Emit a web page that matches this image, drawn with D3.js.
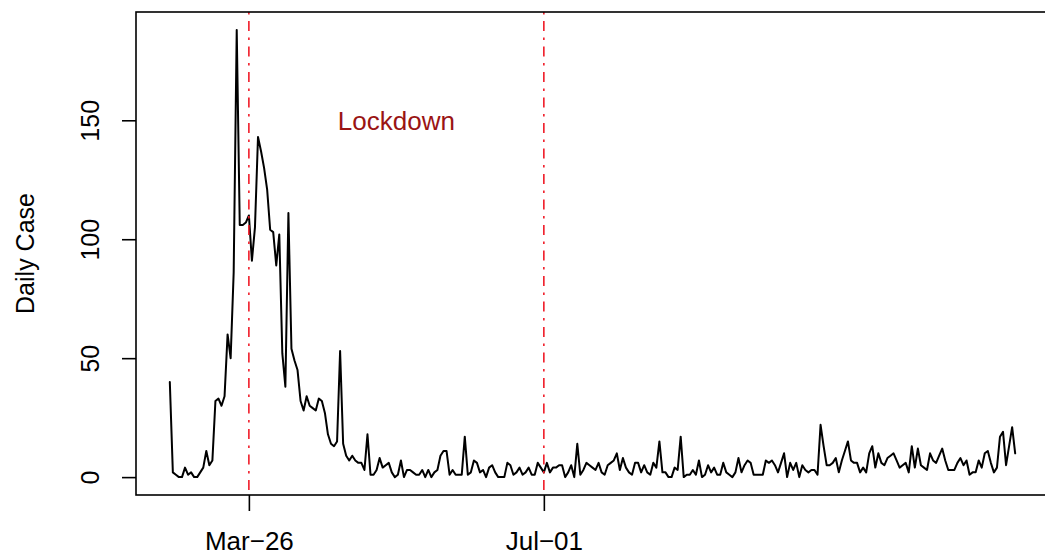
<!DOCTYPE html>
<html>
<head>
<meta charset="utf-8">
<script src="https://cdn.jsdelivr.net/npm/d3@7"></script>
<style>
  html, body { margin: 0; padding: 0; background: #fff; }
  svg { display: block; }
  text { font-family: "Liberation Sans", Arial, Helvetica, sans-serif; }
</style>
</head>
<body>
<div id="chart"></div>
<script>
// Daily reported cases, one value per day starting 2020-02-29
const startDate = "2020-02-29";
const dailyCases = [
  40, 2, 1, 0, 0, 4, 1, 2, 0, 0,
  2, 4, 11, 5, 7, 32, 33, 30, 34, 60,
  50, 86, 188, 106, 106, 107, 110, 91, 105, 143,
  137, 130, 121, 104, 103, 89, 102, 52, 38, 111,
  54, 49, 45, 32, 28, 34, 30, 29, 28, 33,
  32, 27, 18, 14, 13, 15, 53, 14, 9, 7,
  9, 7, 6, 6, 3, 18, 1, 1, 3, 8,
  4, 5, 6, 2, 0, 1, 7, 0, 3, 3,
  2, 1, 1, 3, 0, 3, 0, 2, 3, 9,
  11, 11, 1, 3, 1, 1, 1, 17, 1, 2,
  7, 6, 2, 3, 0, 4, 5, 2, 0, 0,
  0, 6, 5, 1, 2, 4, 1, 2, 4, 1,
  1, 6, 4, 2, 6, 2, 4, 4, 5, 5,
  0, 2, 5, 0, 14, 1, 3, 6, 5, 4,
  3, 6, 2, 1, 5, 6, 7, 10, 3, 8,
  4, 2, 1, 6, 6, 2, 5, 2, 1, 6,
  4, 15, 2, 2, 0, 0, 4, 3, 17, 0,
  1, 1, 3, 1, 7, 0, 1, 5, 2, 4,
  1, 1, 6, 2, 1, 0, 2, 8, 2, 5,
  7, 6, 1, 1, 1, 1, 7, 6, 7, 5,
  2, 6, 10, 0, 6, 3, 6, 0, 5, 3,
  2, 3, 3, 1, 22, 13, 5, 5, 6, 8,
  2, 7, 11, 15, 7, 6, 6, 2, 4, 2,
  10, 13, 4, 10, 6, 5, 8, 9, 10, 7,
  4, 5, 6, 2, 13, 4, 12, 5, 4, 3,
  10, 7, 6, 9, 12, 7, 3, 3, 3, 6,
  8, 5, 7, 1, 2, 2, 7, 4, 10, 11,
  6, 2, 4, 17, 19, 5, 13, 21, 10
];

// Axis ticks
const yTicks = [0, 50, 100, 150];
const xTickDates = ["2020-03-26", "2020-07-01"];
const xTickLabels = ["Mar\u221226", "Jul\u221201"];

// Reference lines and annotation
const markerDates = ["2020-03-26", "2020-07-01"];
const annotationText = "Lockdown";
const annotationValue = 150;
const yLabel = "Daily Case";

const parse = d3.timeParse("%Y-%m-%d");
const start = parse(startDate);
const series = dailyCases.map((v, i) => ({ date: d3.timeDay.offset(start, i), value: v }));

const W = 1045, H = 555;
const plot = { left: 136, right: 1049, top: 12, bottom: 495 };
const font = "'Liberation Sans', Arial, Helvetica, sans-serif";

// Base-graphics style 4% padding on both axes
const t0 = +series[0].date, t1 = +series[series.length - 1].date;
const xPad = (t1 - t0) * 0.04;
const x = d3.scaleTime()
  .domain([new Date(t0 - xPad), new Date(t1 + xPad)])
  .range([plot.left, plot.right]);

const yMin = 0, yMax = d3.max(dailyCases);
const yPad = (yMax - yMin) * 0.04;
const y = d3.scaleLinear()
  .domain([yMin - yPad, yMax + yPad])
  .range([plot.bottom, plot.top]);

const svg = d3.select("#chart").append("svg")
  .attr("width", W).attr("height", H)
  .attr("viewBox", `0 0 ${W} ${H}`);

svg.append("rect").attr("width", W).attr("height", H).attr("fill", "#fff");

// Series line
svg.append("path")
  .datum(series)
  .attr("fill", "none")
  .attr("stroke", "#000")
  .attr("stroke-width", 2)
  .attr("stroke-linejoin", "round")
  .attr("stroke-linecap", "round")
  .attr("d", d3.line().x(d => x(d.date)).y(d => y(d.value)));

// Vertical dot-dash reference lines
svg.append("g").selectAll("line")
  .data(markerDates.map(parse))
  .join("line")
  .attr("x1", d => x(d)).attr("x2", d => x(d))
  .attr("y1", plot.top).attr("y2", plot.bottom)
  .attr("stroke", "#f01c28")
  .attr("stroke-width", 1.6)
  .attr("stroke-dasharray", "2.5,6.5,10,6.5");

// Annotation centred between the two reference lines
const m = markerDates.map(parse);
svg.append("text")
  .attr("x", (x(m[0]) + x(m[1])) / 2)
  .attr("y", y(annotationValue))
  .attr("dy", "0.36em")
  .attr("text-anchor", "middle")
  .attr("fill", "#9a1414")
  .style("font-size", "26px")
  .text(annotationText);

// Plot box
svg.append("rect")
  .attr("x", plot.left).attr("y", plot.top)
  .attr("width", plot.right - plot.left).attr("height", plot.bottom - plot.top)
  .attr("fill", "none").attr("stroke", "#000").attr("stroke-width", 1.6);

// Y axis (left), rotated labels
const yAxis = d3.axisLeft(y).tickValues(yTicks).tickSize(14).tickPadding(0).tickSizeOuter(0);
const gy = svg.append("g").attr("transform", `translate(${plot.left},0)`).call(yAxis);
gy.select(".domain").remove();
gy.selectAll(".tick line").attr("stroke", "#000").attr("stroke-width", 1.6);
gy.selectAll(".tick text")
  .attr("x", null).attr("dy", null)
  .attr("transform", "translate(-37,0) rotate(-90)")
  .attr("text-anchor", "middle")
  .attr("fill", "#000")
  .style("font-size", "25px")
  .style("font-family", font);

// X axis (bottom)
const xAxis = d3.axisBottom(x)
  .tickValues(xTickDates.map(parse))
  .tickFormat((d, i) => xTickLabels[i])
  .tickSize(16).tickPadding(0).tickSizeOuter(0);
const gx = svg.append("g").attr("transform", `translate(0,${plot.bottom})`).call(xAxis);
gx.select(".domain").remove();
gx.selectAll(".tick line").attr("stroke", "#000").attr("stroke-width", 1.6);
gx.selectAll(".tick text")
  .attr("y", 55).attr("dy", null)
  .attr("fill", "#000")
  .style("font-size", "26px")
  .style("font-family", font);

// Y axis title
svg.append("text")
  .attr("transform", `translate(34,${(plot.top + plot.bottom) / 2}) rotate(-90)`)
  .attr("text-anchor", "middle")
  .attr("fill", "#000")
  .style("font-size", "25px")
  .text(yLabel);
</script>
</body>
</html>
